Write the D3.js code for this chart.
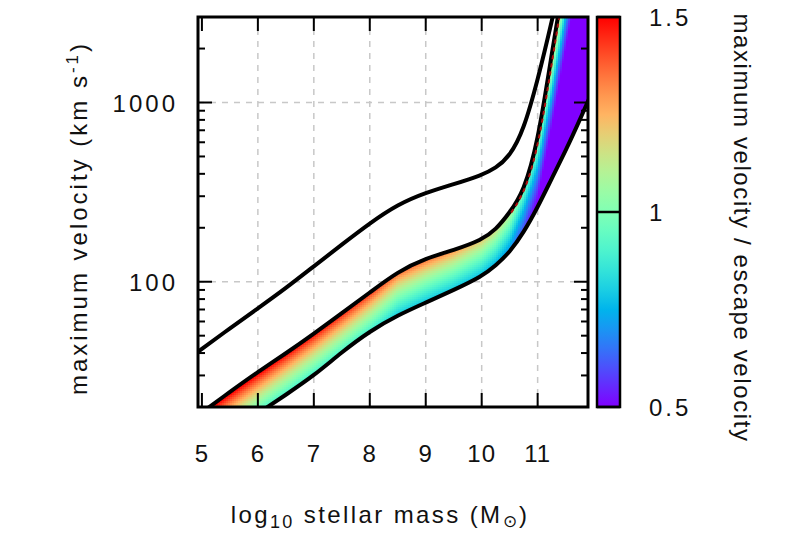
<!DOCTYPE html>
<html>
<head>
<meta charset="utf-8">
<script src="https://cdn.jsdelivr.net/npm/d3@7"></script>
<style>
  html, body { margin: 0; padding: 0; background: #fff; }
  svg { display: block; font-family: "Liberation Sans", Arial, sans-serif; }
</style>
</head>
<body>
<svg id="chart" width="800" height="533"></svg>
<script>
// ---------- data ----------
// log10 stellar mass grid
const massGrid   = [4.9, 5.5, 6, 6.5, 7, 7.5, 8, 8.5, 9, 9.5, 10, 10.25, 10.5, 10.75, 11, 11.25, 11.5, 11.75, 12];
// upper black curve (km/s)
const upperCurve = [40, 55, 71, 92, 122, 161, 212, 270, 314, 350, 393, 430, 500, 700, 1330, 2800, 6300, 12000, 20000];
// top edge of coloured band (km/s)
const bandTop    = [17.7, 24.3, 31.4, 39.8, 51.2, 66.7, 87, 114, 135, 150, 171, 195, 243, 318, 590, 1850, 5600, 15000, 30000];
// bottom edge of coloured band (km/s)
const bandBottom = [10.7, 14.5, 18.4, 23.4, 29.9, 40.5, 53, 65, 76.4, 90, 107, 123, 146, 188, 260, 376, 537, 794, 1200];
// escape velocity used for the colour (km/s)
const escapeVel  = [11.5, 15.7, 20.3, 26.2, 34.1, 45.1, 60.0, 82, 98, 115, 141, 167, 214, 330, 575, 1450, 3981, 10000, 25000];

const xTicks = [5, 6, 7, 8, 9, 10, 11];
const yTicks = [100, 1000];
const cbTicks = [0.5, 1, 1.5];

// ---------- layout ----------
const svg = d3.select("#chart");
const L = 198, R = 588, T = 17, B = 407;
const x = d3.scaleLinear().domain([4.93, 11.9]).range([L, R]);
const y = d3.scaleLog().domain([20, 3000]).range([B, T]);

// piecewise-linear interpolators in log space
const lg = v => Math.log10(v);
const interp = arr => d3.scaleLinear().domain(massGrid).range(arr.map(lg)).clamp(true);
const topL = interp(bandTop), botL = interp(bandBottom), escL = interp(escapeVel);

// gnuplot "rainbow" palette (rgbformulae 33,13,10)
function rainbow(t) {
  t = Math.max(0, Math.min(1, t));
  const r = Math.min(1, Math.abs(2 * t - 0.5));
  const g = Math.max(0, Math.sin(Math.PI * t));
  const b = Math.max(0, Math.cos(Math.PI * t / 2));
  return d3.rgb(r * 255, g * 255, b * 255).toString();
}
const cScale = d3.scaleLinear().domain([0.5, 1.5]).range([0, 1]).clamp(true);

const defs = svg.append("defs");
defs.append("clipPath").attr("id", "plotClip")
  .append("rect").attr("x", L).attr("y", T).attr("width", R - L).attr("height", B - T);

// band area (clip for cells)
const curve = d3.curveBasis;
const bandData = massGrid.map((m, i) => ({ m, top: bandTop[i], bot: bandBottom[i] }));
const bandArea = d3.area().curve(curve)
  .x(d => x(d.m)).y0(d => y(d.bot)).y1(d => y(d.top));
defs.append("clipPath").attr("id", "bandClip")
  .append("path").attr("d", bandArea(bandData));

// ---------- grid ----------
const grid = svg.append("g").attr("stroke", "#c8c8c8").attr("stroke-width", 1.5)
  .attr("stroke-dasharray", "6,6");
grid.selectAll(".gx").data(xTicks.filter(v => v > 5)).enter().append("line")
  .attr("x1", d => x(d)).attr("x2", d => x(d)).attr("y1", T).attr("y2", B);
grid.selectAll(".gy").data(yTicks).enter().append("line")
  .attr("x1", L).attr("x2", R).attr("y1", d => y(d)).attr("y2", d => y(d));

// ---------- coloured cells ----------
const cells = [];
const step = 2;
for (let px = L; px < R; px += step) {
  const m = x.invert(px + step / 2);
  const tl = topL(m) + 0.1, bl = botL(m) - 0.1, el = escL(m);
  for (let py = T; py < B; py += step) {
    const lv = Math.log10(y.invert(py + step / 2));
    if (lv <= tl && lv >= bl) {
      cells.push({ px, py, ratio: Math.pow(10, lv - el) });
    }
  }
}
svg.append("g").attr("clip-path", "url(#plotClip)")
  .append("g").attr("clip-path", "url(#bandClip)")
  .selectAll("rect").data(cells).enter().append("rect")
  .attr("x", d => d.px).attr("y", d => d.py)
  .attr("width", step + 0.6).attr("height", step + 0.6)
  .attr("fill", d => rainbow(cScale(d.ratio)))
  .attr("shape-rendering", "crispEdges");

// ---------- black curves ----------
const line = d3.line().curve(curve).x(d => x(d.m)).y(d => y(d.v));
const lines = svg.append("g").attr("clip-path", "url(#plotClip)")
  .attr("fill", "none").attr("stroke", "#000").attr("stroke-width", 4);
[upperCurve, bandTop, bandBottom].forEach(arr => {
  lines.append("path").attr("d", line(massGrid.map((m, i) => ({ m, v: arr[i] }))));
});
// red dashed rim along the steep part of the band top
svg.append("g").attr("clip-path", "url(#plotClip)").append("path")
  .attr("d", line(massGrid.map((m, i) => ({ m, v: bandTop[i] })).filter(d => d.m >= 10.5)))
  .attr("fill", "none").attr("stroke", "#b01010").attr("stroke-width", 2)
  .attr("stroke-dasharray", "4,4").attr("transform", "translate(1.5,0)");

// ---------- ticks & frame ----------
const tk = svg.append("g").attr("stroke", "#000").attr("stroke-width", 2);
const minorY = [];
[10, 100, 1000].forEach(dec => { for (let k = 2; k <= 9; k++) { const v = dec * k; if (v >= 20 && v <= 3000) minorY.push(v); } });
yTicks.forEach(v => {
  tk.append("line").attr("x1", L).attr("x2", L + 14).attr("y1", y(v)).attr("y2", y(v));
  tk.append("line").attr("x1", R).attr("x2", R - 14).attr("y1", y(v)).attr("y2", y(v));
});
minorY.forEach(v => {
  tk.append("line").attr("x1", L).attr("x2", L + 7).attr("y1", y(v)).attr("y2", y(v));
  tk.append("line").attr("x1", R).attr("x2", R - 7).attr("y1", y(v)).attr("y2", y(v));
});
xTicks.forEach(v => {
  tk.append("line").attr("x1", x(v)).attr("x2", x(v)).attr("y1", B).attr("y2", B - 14);
  tk.append("line").attr("x1", x(v)).attr("x2", x(v)).attr("y1", T).attr("y2", T + 14);
});
svg.append("rect").attr("x", L).attr("y", T).attr("width", R - L).attr("height", B - T)
  .attr("fill", "none").attr("stroke", "#000").attr("stroke-width", 3);

// ---------- tick labels ----------
const fs = 24;
svg.append("g").selectAll("text").data(xTicks).enter().append("text")
  .attr("x", d => x(d)).attr("y", 462).attr("text-anchor", "middle")
  .attr("font-size", fs).attr("letter-spacing", 1).attr("fill", "#111").text(d => d);
svg.append("g").selectAll("text").data(yTicks).enter().append("text")
  .attr("x", 178).attr("y", d => y(d) + 9).attr("text-anchor", "end")
  .attr("font-size", fs).attr("letter-spacing", 3).attr("fill", "#111").text(d => d);

// axis labels
const xl = svg.append("text").attr("x", 380).attr("y", 523).attr("text-anchor", "middle")
  .attr("font-size", fs).attr("letter-spacing", 2.4).attr("fill", "#111");
xl.append("tspan").text("log");
xl.append("tspan").attr("font-size", 18).attr("dy", 5).text("10");
xl.append("tspan").attr("dy", -5).text(" stellar mass (M");
xl.append("tspan").attr("font-size", 17).attr("dy", 4).text("⊙");
xl.append("tspan").attr("dy", -4).text(")");

const yl = svg.append("text").attr("transform", "translate(87,218) rotate(-90)")
  .attr("text-anchor", "middle").attr("font-size", fs).attr("letter-spacing", 3).attr("fill", "#111");
yl.append("tspan").text("maximum velocity (km s");
yl.append("tspan").attr("font-size", 17).attr("dy", -9).text("-1");
yl.append("tspan").attr("dy", 9).text(")");

// ---------- colour bar ----------
const cbL = 597, cbR = 620;
const cbY = d3.scaleLinear().domain([0.5, 1.5]).range([B, T]);
const grad = defs.append("linearGradient").attr("id", "cbGrad")
  .attr("x1", 0).attr("y1", 1).attr("x2", 0).attr("y2", 0);
d3.range(0, 1.0001, 0.05).forEach(t => {
  grad.append("stop").attr("offset", t).attr("stop-color", rainbow(t));
});
svg.append("rect").attr("x", cbL).attr("y", T).attr("width", cbR - cbL).attr("height", B - T)
  .attr("fill", "url(#cbGrad)").attr("stroke", "#000").attr("stroke-width", 2.5);
svg.append("g").attr("stroke", "#000").attr("stroke-width", 2.5)
  .selectAll("line").data(cbTicks).enter().append("line")
  .attr("x1", cbL).attr("x2", cbR).attr("y1", d => cbY(d)).attr("y2", d => cbY(d));
svg.append("g").selectAll("text").data(cbTicks).enter().append("text")
  .attr("x", 649).attr("y", d => cbY(d) + 9).attr("font-size", fs).attr("letter-spacing", 3)
  .attr("fill", "#111").text(d => d);
svg.append("text").attr("transform", "translate(734,228) rotate(90)")
  .attr("text-anchor", "middle").attr("font-size", fs).attr("letter-spacing", 1.6).attr("fill", "#111")
  .text("maximum velocity / escape velocity");
</script>
</body>
</html>
